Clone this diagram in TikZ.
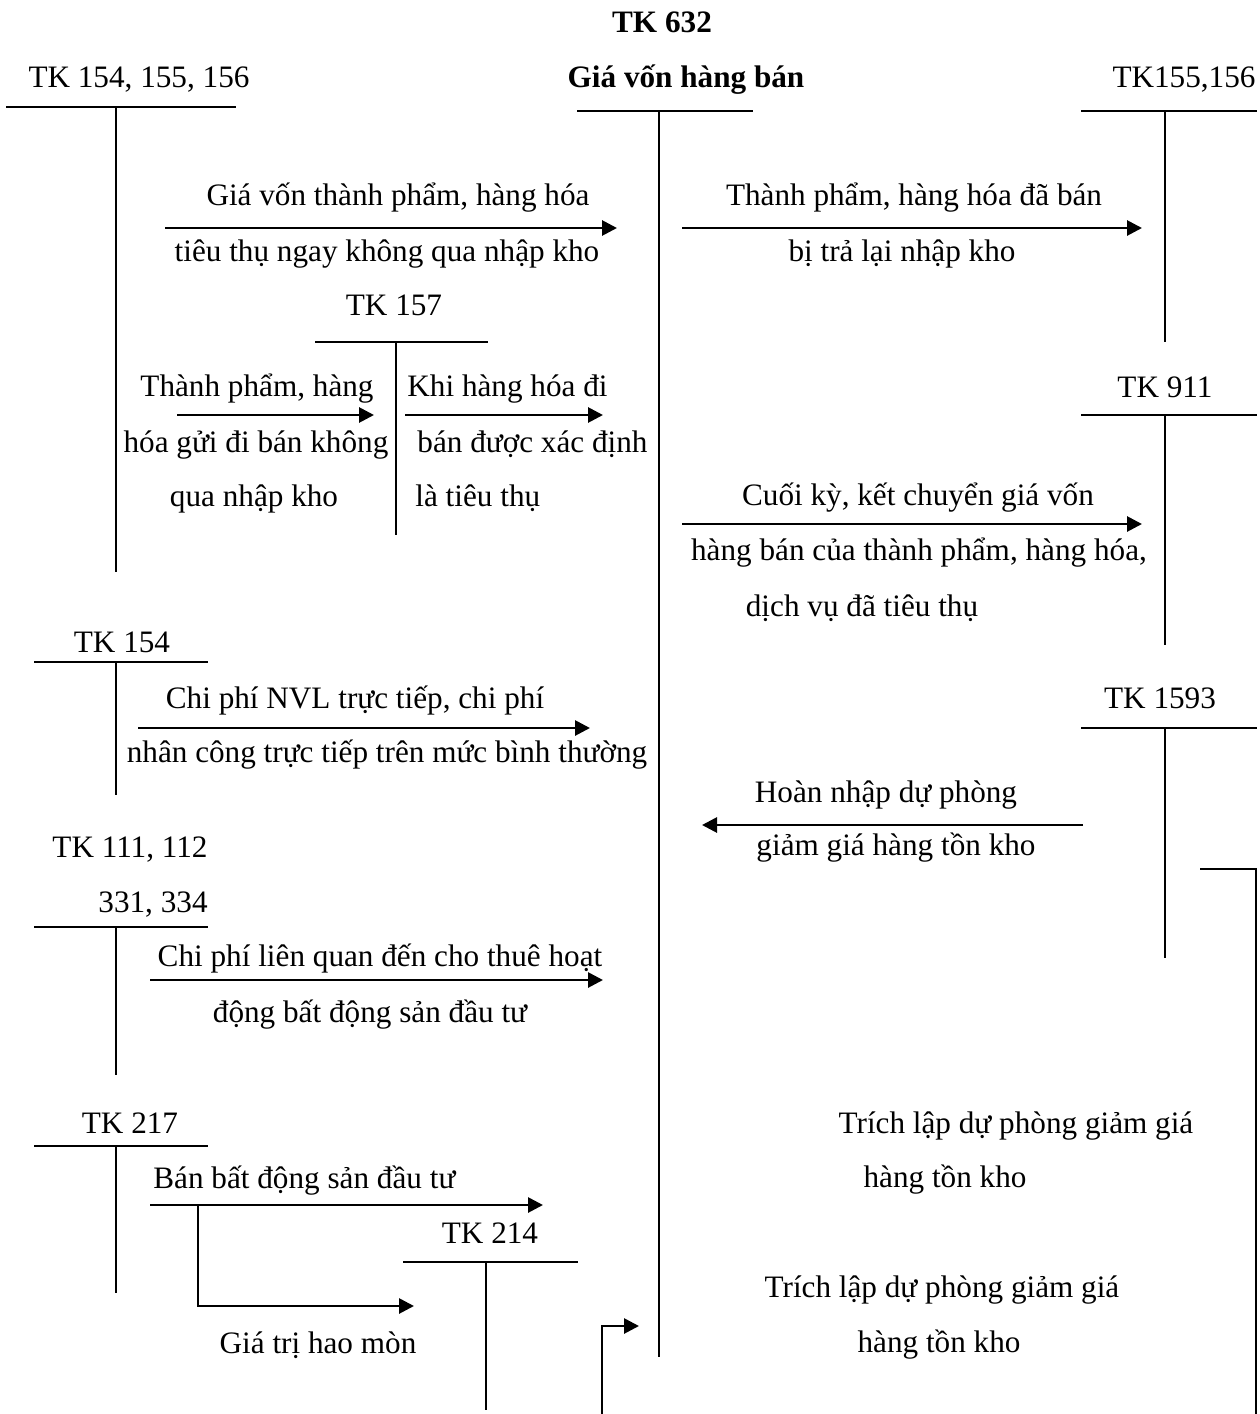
\documentclass[tikz,border=0pt]{standalone}
\usepackage{fontspec}
\setmainfont{Liberation Serif}
\usepackage{tikz}
\usetikzlibrary{arrows.meta,positioning}
\tikzstyle{lbl}  = [inner sep=0pt, anchor=base, font=\fontsize{15.6}{19}\selectfont]
\tikzstyle{lblw} = [lbl, anchor=base west]
\tikzstyle{hdr}  = [lbl, font=\fontsize{15.6}{19}\selectfont\bfseries]
\tikzstyle{tacc} = [line width=0.9pt]
\tikzstyle{flow} = [line width=1.4pt, -{Triangle[length=7.5pt,width=7.5pt]}]

\begin{document}
\begin{tikzpicture}[x=0.5pt, y=-0.5pt]
  \useasboundingbox (0,0) rectangle (1259,1414);
  % tai khoan chinh
  \node[hdr] (t632) at (662,32) {TK 632};
  \node[hdr] (n632) at (686,87) {Giá vốn hàng bán};
  \draw[tacc] (577,111) -- (753,111) (659,111) -- (659,1357);

  % cac tai khoan ben trai
  \node[lbl] (t154a) at (139,87) {TK 154, 155, 156};
  \draw[tacc] (6,107) -- (236,107) (116,107) -- (116,572);
  \node[lbl] (t157) at (394,315) {TK 157};
  \draw[tacc] (315,342) -- (488,342) (396,342) -- (396,535);
  \node[lbl] (t154b) at (122,652) {TK 154};
  \draw[tacc] (34,662) -- (208,662) (116,662) -- (116,795);
  \node[lbl] (t111) at (130,857) {TK 111, 112};
  \node[lbl] (t331) at (153,912) {331, 334};
  \draw[tacc] (34,927) -- (208,927) (116,927) -- (116,1075);
  \node[lbl] (t217) at (130,1133) {TK 217};
  \draw[tacc] (34,1146) -- (208,1146) (116,1146) -- (116,1293);
  \node[lbl] (t214) at (490,1243) {TK 214};
  \draw[tacc] (403,1262) -- (578,1262) (486,1262) -- (486,1410);

  % cac tai khoan ben phai
  \node[lbl] (t155) at (1184,87) {TK155,156};
  \draw[tacc] (1081,111) -- (1257,111) (1165,111) -- (1165,342);
  \node[lbl] (t911) at (1165,397) {TK 911};
  \draw[tacc] (1081,415) -- (1257,415) (1165,415) -- (1165,645);
  \node[lbl] (t1593) at (1160,708) {TK 1593};
  \draw[tacc] (1081,728) -- (1257,728) (1165,728) -- (1165,958);

  % diem dau, diem cuoi cua mui ten
  \coordinate (a1s) at (165,228);  \coordinate (a1e) at (617,228);
  \coordinate (a2s) at (682,228);  \coordinate (a2e) at (1142,228);
  \coordinate (a3s) at (177,415);  \coordinate (a3e) at (374,415);
  \coordinate (a4s) at (405,415);  \coordinate (a4e) at (603,415);
  \coordinate (a5s) at (682,524);  \coordinate (a5e) at (1142,524);
  \coordinate (a6s) at (138,728);  \coordinate (a6e) at (590,728);
  \coordinate (a7s) at (1083,825); \coordinate (a7e) at (702,825);
  \coordinate (a8s) at (150,980);  \coordinate (a8e) at (603,980);
  \coordinate (a9s) at (150,1205); \coordinate (a9e) at (543,1205);
  \coordinate (b9s) at (198,1205); \coordinate (b9e) at (414,1306);
  \coordinate (c1s) at (602,1414); \coordinate (c1e) at (639,1326);
  \coordinate (r1s) at (1200,869); \coordinate (r1e) at (1256,1414);

  % dien giai
  \node[lbl] (l1a) at (398,205) {Giá vốn thành phẩm, hàng hóa};
  \node[lbl] (l1b) at (387,261) {tiêu thụ ngay không qua nhập kho};
  \node[lbl] (l2a) at (914,205) {Thành phẩm, hàng hóa đã bán};
  \node[lbl] (l2b) at (902,261) {bị trả lại nhập kho};
  \node[lbl] (l3a) at (257,396) {Thành phẩm, hàng};
  \node[lbl] (l3b) at (256,452) {hóa gửi đi bán không};
  \node[lbl] (l3c) at (254,506) {qua nhập kho};
  \node[lblw] (l4a) at (407,396) {Khi hàng hóa đi};
  \node[lblw] (l4b) at (417,452) {bán được xác định};
  \node[lblw] (l4c) at (415,506) {là tiêu thụ};
  \node[lbl] (l5a) at (918,505) {Cuối kỳ, kết chuyển giá vốn};
  \node[lbl] (l5b) at (919,560) {hàng bán của thành phẩm, hàng hóa,};
  \node[lbl] (l5c) at (862,616) {dịch vụ đã tiêu thụ};
  \node[lbl] (l6a) at (355,708) {Chi phí NVL trực tiếp, chi phí};
  \node[lbl] (l6b) at (387,762) {nhân công trực tiếp trên mức bình thường};
  \node[lbl] (l7a) at (886,802) {Hoàn nhập dự phòng};
  \node[lbl] (l7b) at (896,855) {giảm giá hàng tồn kho};
  \node[lbl] (l8a) at (380,966) {Chi phí liên quan đến cho thuê hoạt};
  \node[lbl] (l8b) at (370,1022) {động bất động sản đầu tư};
  \node[lblw] (l9a) at (153,1188) {Bán bất động sản đầu tư};
  \node[lbl] (l9b) at (318,1353) {Giá trị hao mòn};
  \node[lbl] (l10a) at (1016,1133) {Trích lập dự phòng giảm giá};
  \node[lbl] (l10b) at (945,1187) {hàng tồn kho};
  \node[lbl] (l11a) at (942,1297) {Trích lập dự phòng giảm giá};
  \node[lbl] (l11b) at (939,1352) {hàng tồn kho};

  % mui ten
  \draw[flow] (a1s) -- (a1e);
  \draw[flow] (a2s) -- (a2e);
  \draw[flow] (a3s) -- (a3e);
  \draw[flow] (a4s) -- (a4e);
  \draw[flow] (a5s) -- (a5e);
  \draw[flow] (a6s) -- (a6e);
  \draw[flow] (a7s) -- (a7e);
  \draw[flow] (a8s) -- (a8e);
  \draw[flow] (a9s) -- (a9e);
  \draw[flow] (b9s) |- (b9e);
  \draw[flow] (c1s) |- (c1e);
  \draw[tacc] (r1s) -| (r1e);
\end{tikzpicture}
\end{document}
